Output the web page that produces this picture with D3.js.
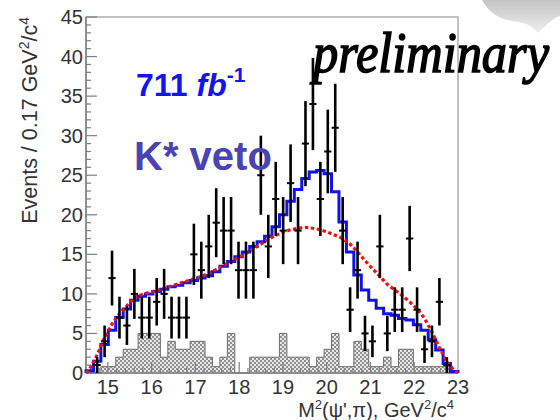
<!DOCTYPE html>
<html>
<head>
<meta charset="utf-8">
<script src="https://cdn.jsdelivr.net/npm/d3@7"></script>
<style>
  html, body { margin: 0; padding: 0; background: #fff; }
  svg { display: block; font-family: "Liberation Sans", Arial, sans-serif; }
</style>
</head>
<body>
<svg id="chart" width="560" height="420"></svg>
<script>
// Binning: 50 bins of 0.17 GeV^2/c^4 from 14.5 to 23.0
const binLow = 14.5;
const binWidth = 0.17;

// Observed events per bin
const counts = [0, 1, 4, 12, 7, 6, 10, 7, 7, 9,
                10, 7, 7, 7, 15, 13, 16, 19, 18, 18,
                13, 13, 13, 25, 16, 22, 18, 24, 18, 29,
                34, 22, 28, 31, 18, 8, 13, 5, 4, 16,
                5, 8, 8, 17, 8, 3, 4, 9, 1, 0];

// Fit with the Z signal (blue histogram)
const fitTotal = [0.3, 1.5, 3.6, 5.4, 7.0, 8.1, 9.2, 9.7, 10.0, 10.3,
                  10.6, 10.9, 11.1, 11.4, 11.7, 12.0, 12.3, 12.8, 13.5, 14.1,
                  14.7, 15.3, 16.0, 16.6, 17.3, 18.5, 20.0, 21.7, 23.2, 24.6,
                  25.4, 25.6, 25.2, 22.9, 19.1, 15.3, 12.4, 10.5, 9.2, 8.2,
                  7.5, 7.3, 6.9, 6.7, 6.1, 5.4, 4.2, 2.9, 1.2, 0.2];

// Background-only fit (red dotted)
const fitBkg = [0.5, 2.3, 4.5, 6.2, 7.5, 8.5, 9.5, 9.9, 10.2, 10.4,
                10.7, 11.0, 11.3, 11.6, 11.9, 12.2, 12.6, 13.1, 13.6, 14.1,
                14.6, 15.1, 15.7, 16.3, 16.9, 17.4, 17.8, 18.1, 18.3, 18.4,
                18.3, 18.1, 17.8, 17.4, 17.0, 16.3, 15.3, 14.2, 13.2, 12.2,
                11.2, 10.5, 9.8, 9.0, 8.1, 6.9, 5.2, 3.2, 1.4, 0.3];

// Sideband estimate (hatched grey histogram)
const sideband = [0, 0, 0.8, 0.8, 2, 3, 3, 5, 5, 5,
                  2, 4, 3, 3, 4, 4, 2, 0.8, 2, 5,
                  0, 0, 2, 2, 2, 2, 5, 2, 2, 2,
                  0.8, 2, 3, 5, 0.8, 0.8, 4, 3, 0.8, 0.8,
                  2, 0.8, 3, 3, 0.8, 0.8, 0.8, 0.8, 0.8, 0];

const xTicks = [15, 16, 17, 18, 19, 20, 21, 22, 23];
const yTicks = [0, 5, 10, 15, 20, 25, 30, 35, 40, 45];

const svg = d3.select("#chart");
const padL = 86, padR = 458, padT = 17, padB = 373;

const x = d3.scaleLinear().domain([14.5, 23.0]).range([padL, padR]);
const y = d3.scaleLinear().domain([0, 45]).range([padB, padT]);

const edge = i => binLow + i * binWidth;
const center = i => binLow + (i + 0.5) * binWidth;

// Checkered fill for the sideband histogram
const defs = svg.append("defs");
const pat = defs.append("pattern")
  .attr("id", "check").attr("patternUnits", "userSpaceOnUse")
  .attr("width", 4).attr("height", 4);
pat.append("rect").attr("width", 4).attr("height", 4).attr("fill", "#e8e8e8");
pat.append("rect").attr("x", 0).attr("y", 0).attr("width", 2).attr("height", 2).attr("fill", "#909090");
pat.append("rect").attr("x", 2).attr("y", 2).attr("width", 2).attr("height", 2).attr("fill", "#909090");

const grad = defs.append("linearGradient").attr("id", "blob")
  .attr("x1", 0).attr("y1", 0).attr("x2", 0).attr("y2", 1);
grad.append("stop").attr("offset", "0%").attr("stop-color", "#c4c4c4");
grad.append("stop").attr("offset", "100%").attr("stop-color", "#eeeeee");

// Decorative grey shape in the upper-right corner
svg.append("path")
  .attr("d", "M482,0 L560,0 L560,16 C552,18 546,26 538,33 C533,27 527,23 518,22 C504,21 492,15 486,6 Z")
  .attr("fill", "url(#blob)");

// Frame
svg.append("rect")
  .attr("x", padL).attr("y", padT)
  .attr("width", padR - padL).attr("height", padB - padT)
  .attr("fill", "none").attr("stroke", "#9a9a9a").attr("stroke-width", 1.2);

// Sideband histogram
const sbPts = [[edge(0), 0]];
sideband.forEach((v, i) => { sbPts.push([edge(i), v]); });
sbPts.push([edge(sideband.length), 0]);
const stepLine = d3.line().x(d => x(d[0])).y(d => y(d[1])).curve(d3.curveStepAfter);
svg.append("path")
  .attr("d", stepLine(sbPts))
  .attr("fill", "url(#check)")
  .attr("stroke", "#6e6e6e").attr("stroke-width", 1);

// Axes
const axisColor = "#7f7f7f";
const gy = svg.append("g");
d3.range(0, 46, 1).forEach(v => {
  const major = v % 5 === 0;
  gy.append("line")
    .attr("x1", padL).attr("x2", padL + (major ? 11 : 5))
    .attr("y1", y(v)).attr("y2", y(v))
    .attr("stroke", axisColor).attr("stroke-width", 1.2);
});
gy.append("line").attr("x1", padL).attr("x2", padL).attr("y1", padT).attr("y2", padB)
  .attr("stroke", axisColor).attr("stroke-width", 1.5);
gy.selectAll("text.ylab").data(yTicks).join("text")
  .attr("class", "ylab")
  .attr("x", 83).attr("y", d => y(d)).attr("dy", "0.35em")
  .attr("text-anchor", "end").attr("font-size", 20).attr("fill", "#333")
  .text(d => d);

const gx = svg.append("g");
d3.range(14.6, 23.0, 0.2).forEach(v => {
  const major = Math.abs(v - Math.round(v)) < 1e-6;
  gx.append("line")
    .attr("x1", x(v)).attr("x2", x(v))
    .attr("y1", padB).attr("y2", padB - (major ? 11 : 5))
    .attr("stroke", axisColor).attr("stroke-width", 1.2);
});
gx.append("line").attr("x1", padL).attr("x2", padR).attr("y1", padB).attr("y2", padB)
  .attr("stroke", axisColor).attr("stroke-width", 1.5);
gx.selectAll("text.xlab").data(xTicks).join("text")
  .attr("class", "xlab")
  .attr("x", d => x(d)).attr("y", 394)
  .attr("text-anchor", "middle").attr("font-size", 20).attr("fill", "#333")
  .text(d => d);

// Axis titles
const yt = svg.append("text")
  .attr("transform", "translate(37,17) rotate(-90)")
  .attr("text-anchor", "end").attr("font-size", 21.5).attr("fill", "#333");
yt.append("tspan").text("Events / 0.17 GeV");
yt.append("tspan").attr("font-size", 14).attr("dy", -8).text("2");
yt.append("tspan").attr("dy", 8).text("/c");
yt.append("tspan").attr("font-size", 14).attr("dy", -8).text("4");

const xt = svg.append("text")
  .attr("x", 454).attr("y", 417)
  .attr("text-anchor", "end").attr("font-size", 20).attr("fill", "#333");
xt.append("tspan").text("M");
xt.append("tspan").attr("font-size", 13).attr("dy", -8).text("2");
xt.append("tspan").attr("dy", 8).text("(ψ',π), GeV");
xt.append("tspan").attr("font-size", 13).attr("dy", -8).text("2");
xt.append("tspan").attr("dy", 8).text("/c");
xt.append("tspan").attr("font-size", 13).attr("dy", -8).text("4");

// Blue total fit histogram
const blPts = [[edge(0), 0]];
fitTotal.forEach((v, i) => blPts.push([edge(i), v]));
blPts.push([edge(fitTotal.length), fitTotal[fitTotal.length - 1]]);
blPts.push([edge(fitTotal.length), 0]);
svg.append("path")
  .attr("d", stepLine(blPts))
  .attr("fill", "none").attr("stroke", "#1010f0").attr("stroke-width", 3);

// Red dotted background curve
const rdPts = [[edge(0), 0]];
fitBkg.forEach((v, i) => rdPts.push([center(i), v]));
rdPts.push([edge(fitBkg.length), 0]);
svg.append("path")
  .attr("d", d3.line().x(d => x(d[0])).y(d => y(d[1]))(rdPts))
  .attr("fill", "none").attr("stroke", "#f01010").attr("stroke-width", 3.2)
  .attr("stroke-dasharray", "3.5,2.5");

// Data points with sqrt(N) error bars
const pts = counts.map((n, i) => ({ n, i })).filter(d => d.n > 0);
const gp = svg.append("g");
gp.selectAll("line.ev").data(pts).join("line")
  .attr("class", "ev")
  .attr("x1", d => x(center(d.i))).attr("x2", d => x(center(d.i)))
  .attr("y1", d => y(d.n - Math.sqrt(d.n))).attr("y2", d => y(d.n + Math.sqrt(d.n)))
  .attr("stroke", "#000").attr("stroke-width", 2.6);
gp.selectAll("line.eh").data(pts).join("line")
  .attr("class", "eh")
  .attr("x1", d => x(center(d.i)) - 3.6).attr("x2", d => x(center(d.i)) + 3.6)
  .attr("y1", d => y(d.n)).attr("y2", d => y(d.n))
  .attr("stroke", "#000").attr("stroke-width", 2);

// Annotations
const lum = svg.append("text")
  .attr("x", 136).attr("y", 96)
  .attr("font-size", 32).attr("font-weight", "bold").attr("fill", "#1414f0");
lum.append("tspan").text("711 ");
lum.append("tspan").attr("font-style", "italic").text("fb");
lum.append("tspan").attr("font-size", 21).attr("dy", -14).text("-1");

svg.append("text")
  .attr("x", 134).attr("y", 170)
  .attr("font-size", 40).attr("font-weight", "bold").attr("fill", "#4a44b2")
  .text("K* veto");

svg.append("text")
  .attr("x", 313).attr("y", 72)
  .attr("font-family", "'Liberation Serif', serif")
  .attr("font-style", "italic")
  .attr("font-size", 58).attr("fill", "#000")
  .attr("stroke", "#000").attr("stroke-width", 1.6)
  .attr("textLength", 236).attr("lengthAdjust", "spacingAndGlyphs")
  .text("preliminary");
</script>
</body>
</html>
